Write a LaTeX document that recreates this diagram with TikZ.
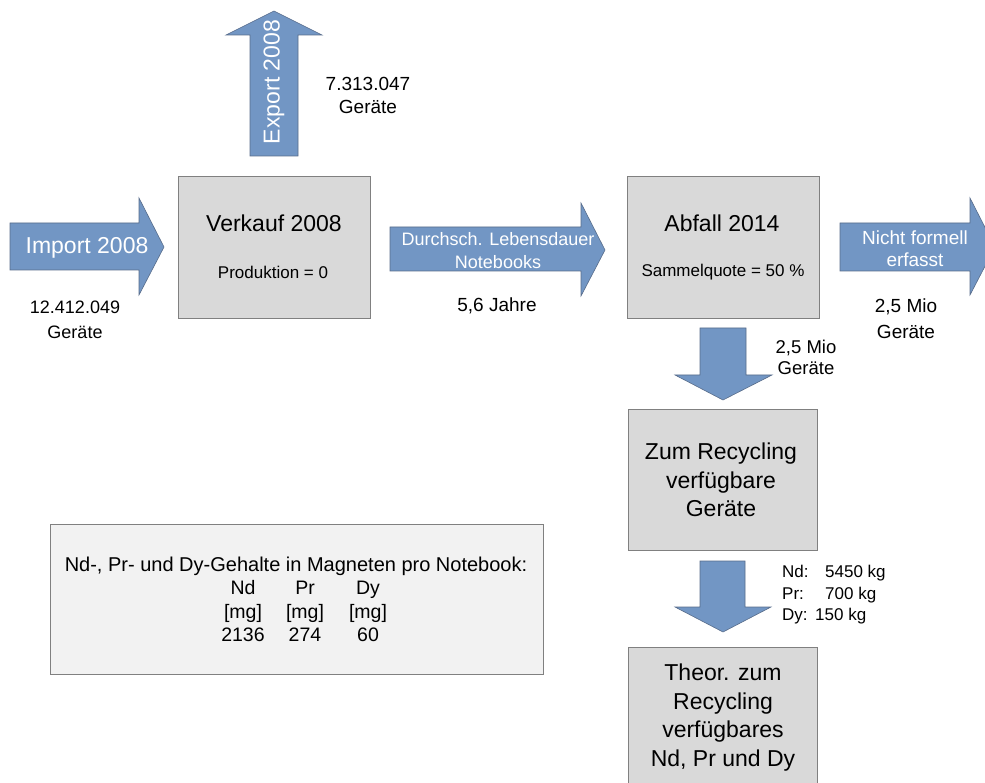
\documentclass[tikz,border=0pt]{standalone}
\usepackage{fontspec}
\setmainfont{Liberation Sans}
\definecolor{arrowblue}{RGB}{114,150,196}
\definecolor{arrowedge}{RGB}{88,108,138}
\definecolor{boxgrey}{RGB}{217,217,217}
\definecolor{tablegrey}{RGB}{242,242,242}
\definecolor{boxedge}{RGB}{128,128,128}
\tikzset{
  blockarrow/.style={fill=arrowblue, draw=arrowedge, line width=0.6pt},
  box/.style={fill=boxgrey, draw=boxedge, line width=0.8pt},
  tablebox/.style={fill=tablegrey, draw=boxedge, line width=0.8pt},
  wtext/.style={text=white, align=center, inner sep=0pt},
  btext/.style={text=black, align=center, inner sep=0pt},
  big/.style={font=\fontsize{23}{28.5}\selectfont},
  mid/.style={font=\fontsize{19}{23}\selectfont},
  small/.style={font=\fontsize{17}{20}\selectfont},
  tab/.style={font=\fontsize{19.5}{23}\selectfont, anchor=base},
}
\begin{document}
\begin{tikzpicture}[x=1pt,y=-1pt]
\useasboundingbox (0,0) rectangle (985,783);
\clip (0,0) rectangle (985,783);
% arrows
\draw[blockarrow] (10,223)--(139,223)--(139,198)--(164,247)--(139,295)--(139,270)--(10,270)--cycle;
\draw[blockarrow] (250,156)--(250,35)--(226,35)--(274,11)--(322,35)--(298,35)--(298,156)--cycle;
\draw[blockarrow] (390,227)--(581,227)--(581,203)--(605,250)--(581,296)--(581,271)--(390,271)--cycle;
\draw[blockarrow] (840,223)--(970,223)--(970,198)--(995,247)--(970,295)--(970,271)--(840,271)--cycle;
\draw[blockarrow] (700,328)--(746,328)--(746,375)--(772,375)--(723,400)--(675,375)--(700,375)--cycle;
\draw[blockarrow] (700,561)--(745,561)--(745,607)--(771,607)--(723,632)--(675,607)--(700,607)--cycle;
% arrow labels
\node[wtext,big] (imp) at (87,248) {Import 2008};
\node[wtext,big,rotate=90] (exp) at (274,82) {Export 2008};
\node[wtext,font=\fontsize{18}{23}\selectfont] (dur) at (498,250.5) {Durchsch. Lebensdauer\\Notebooks};
\node[wtext,font=\fontsize{19}{22}\selectfont] (nic) at (915,249) {Nicht formell\\erfasst};
% boxes
\draw[box] (178,176) rectangle (370,318);
\draw[box] (627,176) rectangle (819,318);
\draw[box] (628,409) rectangle (817,550);
\draw[box] (628,647) rectangle (817,800);
\draw[tablebox] (50,524) rectangle (543,674);
\node[btext,big] (verk) at (274,223) {Verkauf 2008};
\node[btext,small] (prod) at (273,272) {Produktion = 0};
\node[btext,big] (abf) at (722,223) {Abfall 2014};
\node[btext,small] (samm) at (723,272) {Sammelquote = 50 \%};
\node[btext,big] (rec) at (721,480) {Zum Recycling\\verfügbare\\Geräte};
\node[btext,big] (theo) at (723,717.5) {Theor. zum\\Recycling\\verfügbares\\Nd, Pr und Dy};
% quantity labels
\node[btext,font=\fontsize{18}{25}\selectfont] (q1) at (75,319.5) {12.412.049\\Geräte};
\node[btext,mid] (q2) at (368,95.5) {7.313.047\\Geräte};
\node[btext,mid] (q3) at (497,306) {5,6 Jahre};
\node[btext,font=\fontsize{19}{26}\selectfont] (q4) at (906,319) {2,5 Mio\\Geräte};
\node[btext,font=\fontsize{18.5}{21}\selectfont] (q5) at (806,357.5) {2,5 Mio\\Geräte};
\node[btext,font=\fontsize{17}{21.5}\selectfont,anchor=north west,align=left] (q6) at (782,565)
  {\makebox[43pt][l]{Nd:}5450 kg\\\makebox[43pt][l]{Pr:}700 kg\\\makebox[33pt][l]{Dy:}150 kg};
% table
\node[btext,tab,font=\fontsize{20}{23}\selectfont] (tt) at (296,571) {Nd-, Pr- und Dy-Gehalte in Magneten pro Notebook:};
\node[btext,tab] (c1a) at (243,594) {Nd};
\node[btext,tab] (c2a) at (305,594) {Pr};
\node[btext,tab] (c3a) at (368,594) {Dy};
\node[btext,tab] (c1b) at (243,618) {[mg]};
\node[btext,tab] (c2b) at (305,618) {[mg]};
\node[btext,tab] (c3b) at (368,618) {[mg]};
\node[btext,tab] (c1c) at (243,641) {2136};
\node[btext,tab] (c2c) at (305,641) {274};
\node[btext,tab] (c3c) at (368,641) {60};
\end{tikzpicture}
\end{document}
